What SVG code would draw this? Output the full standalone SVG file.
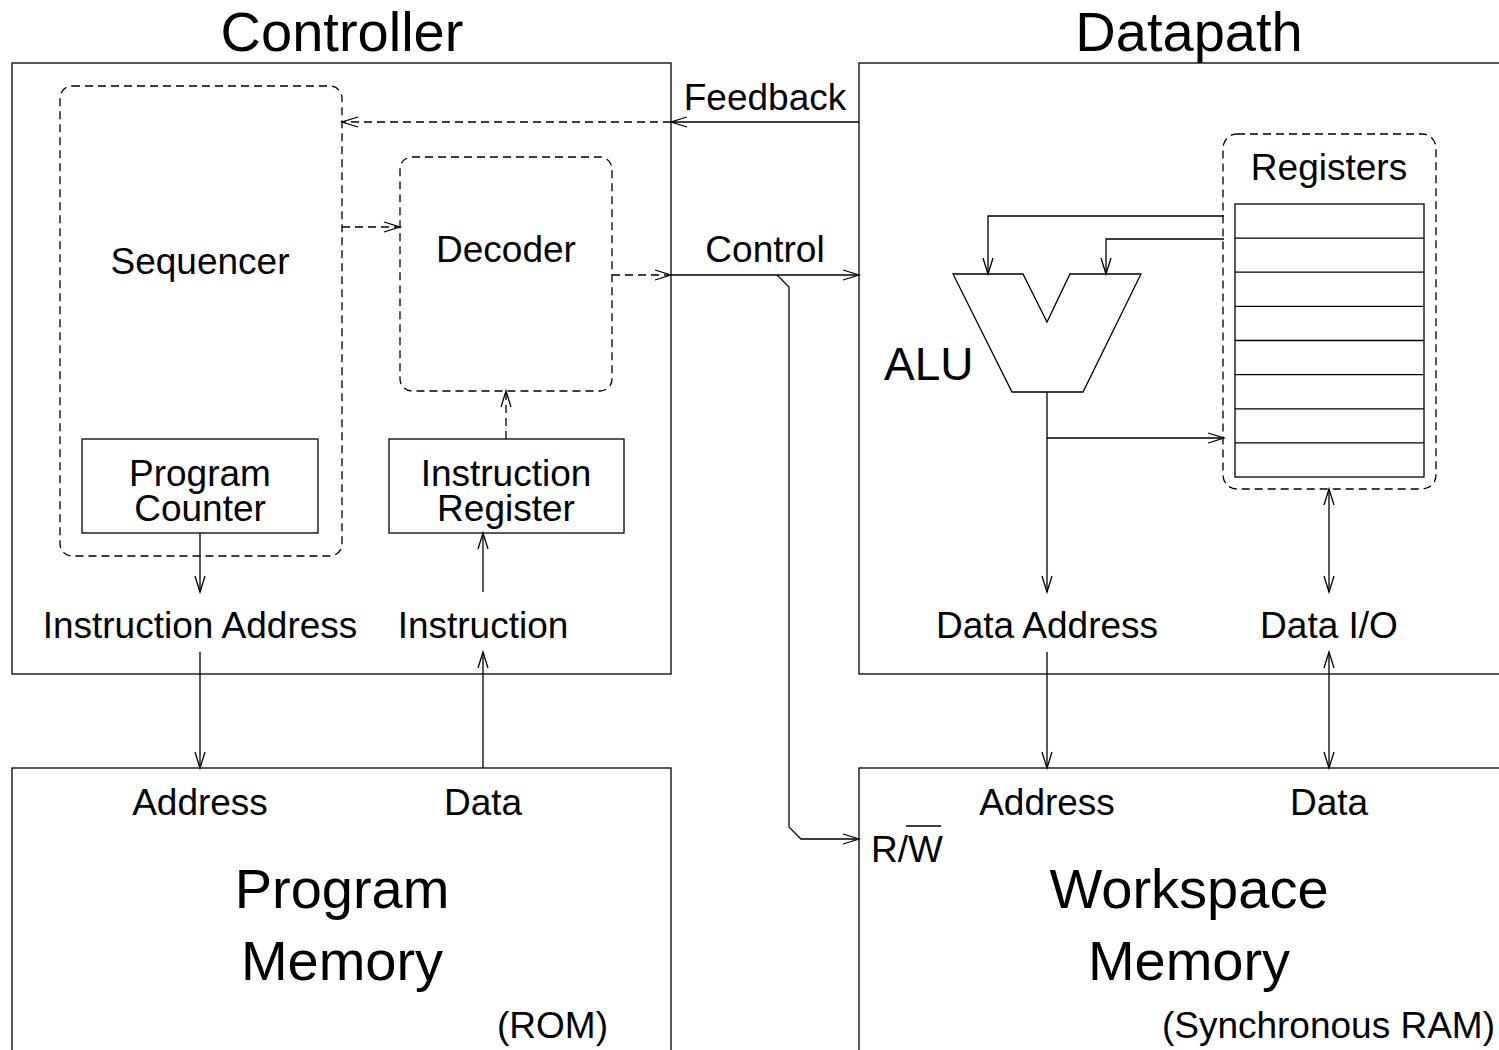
<svg xmlns="http://www.w3.org/2000/svg" width="1499" height="1050" viewBox="0 0 1499 1050">
  <style>
    .box { fill: none; stroke: #000; stroke-width: 1.3; }
    .dash { fill: none; stroke: #000; stroke-width: 1.3; stroke-dasharray: 8 5; }
    .wire { fill: none; stroke: #000; stroke-width: 1.3; }
    text { font-family: "Liberation Sans", Arial, sans-serif; fill: #000; }
    .lbl { font-size: 37px; }
    .big { font-size: 56px; }
    .mid { text-anchor: middle; }
    .end { text-anchor: end; }
  </style>
  <defs>
    <marker id="arr" markerUnits="userSpaceOnUse" markerWidth="20" markerHeight="14" viewBox="-18 -7 20 14" refX="0" refY="0" orient="auto-start-reverse" overflow="visible">
      <path d="M -16 -5 L 0 0 L -16 5" fill="none" stroke="#000" stroke-width="1.3" stroke-dasharray="none"/>
    </marker>
  </defs>
  <rect width="1499" height="1050" fill="#fff"/>

  <!-- titles -->
  <text class="big mid" x="342" y="51">Controller</text>
  <text class="big mid" x="1189" y="51">Datapath</text>

  <!-- controller -->
  <g id="controller">
    <rect class="box" x="12" y="63" width="659" height="611"/>
    <text class="lbl mid" x="200" y="638">Instruction Address</text>
    <text class="lbl mid" x="483" y="638">Instruction</text>
  </g>
  <g id="sequencer">
    <rect class="dash" x="60" y="86" width="282" height="470" rx="12"/>
    <text class="lbl mid" x="200" y="274">Sequencer</text>
  </g>
  <g id="decoder">
    <rect class="dash" x="400" y="157" width="212" height="234" rx="12"/>
    <text class="lbl mid" x="506" y="262">Decoder</text>
  </g>
  <g id="program-counter">
    <rect class="box" x="82" y="439" width="236" height="94"/>
    <text class="lbl mid" x="200" y="486">Program</text>
    <text class="lbl mid" x="200" y="521">Counter</text>
  </g>
  <g id="instruction-register">
    <rect class="box" x="389" y="439" width="235" height="94"/>
    <text class="lbl mid" x="506" y="486">Instruction</text>
    <text class="lbl mid" x="506" y="521">Register</text>
  </g>

  <!-- datapath -->
  <g id="datapath">
    <rect class="box" x="859" y="63" width="700" height="611"/>
    <text class="lbl mid" x="1047" y="638">Data Address</text>
    <text class="lbl mid" x="1329" y="638">Data I/O</text>
  </g>
  <g id="alu">
    <polygon class="box" points="953,274 1023,274 1047,322 1070,274 1141,274 1083,392 1012,392"/>
    <text x="884" y="380" font-size="46">ALU</text>
  </g>
  <g id="registers">
    <rect class="dash" x="1223" y="134" width="213" height="355" rx="14"/>
    <text class="lbl mid" x="1329" y="180">Registers</text>
    <rect class="box" x="1235" y="204" width="189" height="273"/>
    <path class="box" d="M1235 238.1H1424M1235 272.2H1424M1235 306.4H1424M1235 340.5H1424M1235 374.6H1424M1235 408.8H1424M1235 442.9H1424"/>
  </g>

  <!-- memories -->
  <g id="program-memory">
    <rect class="box" x="12" y="768" width="659" height="400"/>
    <text class="lbl mid" x="200" y="815">Address</text>
    <text class="lbl mid" x="483" y="815">Data</text>
    <text class="big mid" x="342" y="908">Program</text>
    <text class="big mid" x="342" y="980">Memory</text>
    <text class="lbl end" x="608" y="1038">(ROM)</text>
  </g>
  <g id="workspace-memory">
    <rect class="box" x="859" y="768" width="700" height="400"/>
    <text class="lbl mid" x="1047" y="815">Address</text>
    <text class="lbl mid" x="1329" y="815">Data</text>
    <text class="lbl" x="871" y="862">R/W</text>
    <line class="wire" x1="906" y1="826" x2="941" y2="826"/>
    <text class="big mid" x="1189" y="908">Workspace</text>
    <text class="big mid" x="1189" y="980">Memory</text>
    <text class="lbl end" x="1495" y="1038">(Synchronous RAM)</text>
  </g>

  <!-- connectors -->
  <g id="connectors">
    <text class="lbl mid" x="765" y="110">Feedback</text>
    <text class="lbl mid" x="765" y="262">Control</text>
    <!-- feedback path -->
    <line class="wire" x1="859" y1="122" x2="671" y2="122" marker-end="url(#arr)"/>
    <line class="dash" x1="671" y1="122" x2="342" y2="122" marker-end="url(#arr)"/>
    <!-- sequencer to decoder -->
    <line class="dash" x1="342" y1="227" x2="400" y2="227" marker-end="url(#arr)"/>
    <!-- control path -->
    <line class="dash" x1="612" y1="275" x2="671" y2="275" marker-end="url(#arr)"/>
    <line class="wire" x1="671" y1="275" x2="859" y2="275" marker-end="url(#arr)"/>
    <polyline class="wire" points="777,275 789,287 789,827 801,839 859,839" marker-end="url(#arr)"/>
    <!-- instruction register to decoder -->
    <line class="dash" x1="506" y1="439" x2="506" y2="391" marker-end="url(#arr)"/>
    <!-- program counter / instruction -->
    <line class="wire" x1="200" y1="533" x2="200" y2="592" marker-end="url(#arr)"/>
    <line class="wire" x1="483" y1="592" x2="483" y2="533" marker-end="url(#arr)"/>
    <line class="wire" x1="200" y1="652" x2="200" y2="768" marker-end="url(#arr)"/>
    <line class="wire" x1="483" y1="768" x2="483" y2="652" marker-end="url(#arr)"/>
    <!-- ALU operands -->
    <polyline class="wire" points="1224,216 988,216 988,274" marker-end="url(#arr)"/>
    <polyline class="wire" points="1224,239 1106,239 1106,274" marker-end="url(#arr)"/>
    <!-- ALU result -->
    <line class="wire" x1="1047" y1="392" x2="1047" y2="592" marker-end="url(#arr)"/>
    <line class="wire" x1="1047" y1="438" x2="1224" y2="438" marker-end="url(#arr)"/>
    <!-- register file data -->
    <line class="wire" x1="1329" y1="489" x2="1329" y2="592" marker-start="url(#arr)" marker-end="url(#arr)"/>
    <!-- to workspace memory -->
    <line class="wire" x1="1047" y1="652" x2="1047" y2="768" marker-end="url(#arr)"/>
    <line class="wire" x1="1329" y1="652" x2="1329" y2="768" marker-start="url(#arr)" marker-end="url(#arr)"/>
  </g>
</svg>
